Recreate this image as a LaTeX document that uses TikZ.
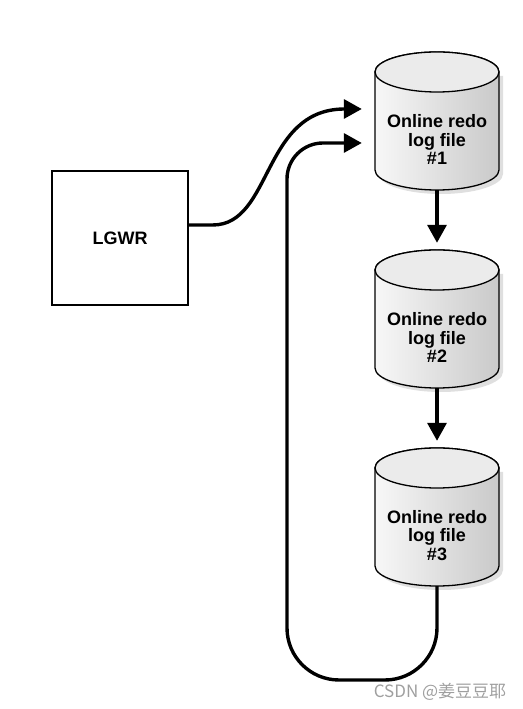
\documentclass[tikz,border=0pt]{standalone}
\usepackage{fontspec}
\setmainfont{Liberation Sans}
\newfontfamily\cjkfont{Noto Sans CJK SC}
\usepackage{xcolor}
\usepackage{tikz}
\usetikzlibrary{arrows.meta,calc}

\tikzset{
  flow/.style={line width=3.4pt, line join=round, -{Triangle[length=18pt,width=19pt]}},
  cylbox/.style={minimum width=124pt, minimum height=138pt, inner sep=0pt, draw=none},
  logtext/.style={align=center, font=\bfseries\fontsize{18}{18.5}\selectfont},
}

% one redo log cylinder: name, x, y, number
\newcommand{\logfile}[4]{%
  \begin{scope}[shift={(#2,#3)}]
    \fill[black!18, opacity=0.7] (-58,45) -- (-58,-53)
      arc[start angle=180, end angle=360, x radius=62, y radius=20] -- (66,45) -- cycle;
    \shade[left color=gray!6, right color=gray!42, draw=black, line width=1.3pt]
      (-62,49) -- (-62,-49)
      arc[start angle=180, end angle=360, x radius=62, y radius=20]
      -- (62,49) arc[start angle=0, end angle=180, x radius=62, y radius=20] -- cycle;
    \draw[fill=gray!16, line width=1.3pt] (0,49) ellipse[x radius=62, y radius=20];
  \end{scope}
  \node[cylbox] (#1) at (#2,#3) {};
  \node[logtext] at ([yshift=-18.5pt]#1.center) {Online redo\\log file\\\##4};
}

\begin{document}
\begin{tikzpicture}[x=1pt, y=1pt]
  \useasboundingbox (0,0) rectangle (522,709);
  % writer
  \node[draw, line width=1.3pt, minimum width=136pt, minimum height=134pt,
    font=\bfseries\fontsize{18}{20}\selectfont] (lgwr) at (120,471) {LGWR};
  % redo log group
  \logfile{log1}{437}{588}{1}
  \logfile{log2}{437}{390}{2}
  \logfile{log3}{437}{192}{3}
  % switching order
  \draw[flow] (log1.south) -- ([yshift=7pt]log2.north);
  \draw[flow] (log2.south) -- ([yshift=7pt]log3.north);
  % writes
  \coordinate (in1) at ([xshift=-13pt, yshift=12pt]log1.west);
  \coordinate (in2) at ([xshift=-13pt, yshift=-22pt]log1.west);
  \coordinate (loopbot) at (287,29);
  \draw[flow] ([yshift=13pt]lgwr.east) -- ++(24,0)
    .. controls +(60,0) and +(-100,0) .. (in1);
  \draw[flow] (log3.south) [rounded corners=52pt] |- (loopbot)
    [rounded corners=36pt] |- (in2);
  % watermark
  \node[text=gray!75, font=\cjkfont\fontsize{17}{19}\selectfont] (mark) at (440,17) {CSDN @姜豆豆耶};
\end{tikzpicture}
\end{document}
